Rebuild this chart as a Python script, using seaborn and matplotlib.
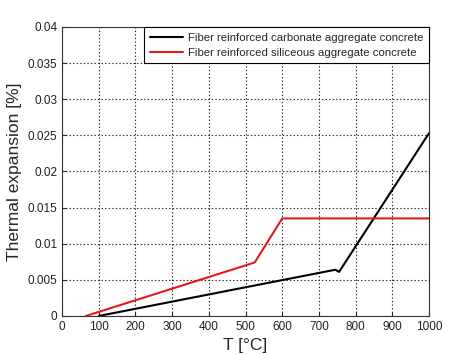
import pandas as pd
import matplotlib.pyplot as plt
import seaborn as sns

carb_T = [100, 745, 755, 1000]
carb_eps = [0.0, 0.0064, 0.0061, 0.0253]
sil_T = [65, 525, 600, 1000]
sil_eps = [0.0, 0.0074, 0.0135, 0.0135]

lbl_carb = 'Fiber reinforced carbonate aggregate concrete'
lbl_sil = 'Fiber reinforced siliceous aggregate concrete'

df = pd.concat([
    pd.DataFrame({'T': carb_T, 'eps': carb_eps, 'mix': lbl_carb}),
    pd.DataFrame({'T': sil_T, 'eps': sil_eps, 'mix': lbl_sil}),
])

sns.set_style('ticks')
plt.rcParams['font.family'] = ['Liberation Sans', 'DejaVu Sans']

fig = plt.figure(figsize=(4.74, 3.55), dpi=100)
ax = fig.add_axes([0.131, 0.110, 0.774, 0.814])
sns.lineplot(data=df, x='T', y='eps', hue='mix', sort=False, estimator=None,
             palette={lbl_carb: 'black', lbl_sil: '#e31a1c'}, linewidth=1.5, ax=ax)

ax.set_xlim(0, 1000)
ax.set_ylim(0, 0.04)
ax.set_xticks(range(0, 1001, 100))
ax.set_yticks([0, 0.005, 0.01, 0.015, 0.02, 0.025, 0.03, 0.035, 0.04])
ax.set_yticklabels(['0', '0.005', '0.01', '0.015', '0.02', '0.025', '0.03', '0.035', '0.04'])
ax.tick_params(labelsize=8.5, direction='in', length=3, colors='#222222')
ax.grid(True, color='#222222', linestyle=(0, (1.2, 2)), linewidth=0.8)
for s in ax.spines.values():
    s.set_visible(True)
    s.set_color('#333333')
    s.set_linewidth(0.8)
ax.set_xlabel('T [°C]', fontsize=12.5)
ax.set_ylabel('Thermal expansion [%]', fontsize=12.5)

leg = ax.legend(loc='upper right', fontsize=8.2, frameon=True, fancybox=False,
                borderaxespad=0, handlelength=2.9, handletextpad=0.4,
                borderpad=0.5, labelspacing=0.45)
leg.get_frame().set_edgecolor('black')
leg.get_frame().set_linewidth(0.8)
leg.get_frame().set_alpha(1)

fig.savefig('out.png', dpi=100)
